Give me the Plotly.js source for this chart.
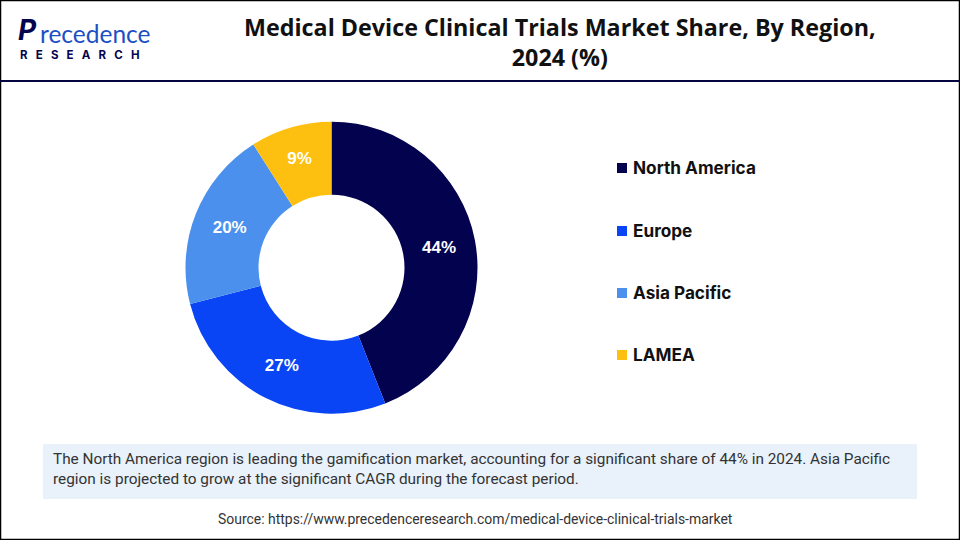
<!DOCTYPE html>
<html><head><meta charset="utf-8"><script src="https://cdn.plot.ly/plotly-3.0.1.min.js"></script>
<style>html,body{margin:0;padding:0;background:#fff}#c{width:960px;height:540px}</style></head>
<body><div id="c"></div><script>
const categories=["North America","Europe","Asia Pacific","LAMEA"];
const shares=[44,27,20,9];
const colors=["#02024f","#0a45f5","#4a90ec","#fdc010"];
const titleText="Medical Device Clinical Trials Market Share, By Region,<br>2024 (%)";
const noteLine1="The North America region is leading the gamification market, accounting for a significant share of 44% in 2024. Asia Pacific";
const noteLine2="region is projected to grow at the significant CAGR during the forecast period.";
const sourceText="Source: https://www.precedenceresearch.com/medical-device-clinical-trials-market";
const W=960,H=540;
const px=x=>x/W, py=y=>1-y/H;
const legendY=[168,231,293,355];
const shapes=[
 {type:"rect",xref:"paper",yref:"paper",x0:px(0.5),x1:px(959.5),y0:py(0.5),y1:py(539.5),line:{color:"#000",width:1.5},fillcolor:"rgba(0,0,0,0)"},
 {type:"line",xref:"paper",yref:"paper",x0:px(0),x1:px(960),y0:py(81),y1:py(81),line:{color:"#04043f",width:2}},
 {type:"rect",xref:"paper",yref:"paper",x0:px(43),x1:px(917),y0:py(444),y1:py(499),line:{width:0},fillcolor:"#e9f1fa",layer:"below"}
];
const ann=[
 {text:"<b>"+titleText+"</b>",x:px(560),y:py(42),xanchor:"center",yanchor:"middle",font:{family:"Open Sans",size:23.3,color:"#111"},showarrow:false,align:"center"},
 {text:noteLine1,x:px(50.5),y:py(459),xanchor:"left",yanchor:"middle",font:{family:"Roboto",size:15.35,color:"#333"},showarrow:false},
 {text:noteLine2,x:px(50.5),y:py(479),xanchor:"left",yanchor:"middle",font:{family:"Roboto",size:15.35,color:"#333"},showarrow:false},
 {text:sourceText,x:px(475),y:py(519),xanchor:"center",yanchor:"middle",font:{family:"Roboto",size:13.95,color:"#333"},showarrow:false},
 {text:"<b><i>P</i></b>",x:px(16),y:py(30),xanchor:"left",yanchor:"middle",font:{family:"Inter",size:28,color:"#05054f"},showarrow:false},
 {text:"recedence",x:px(38),y:py(33.5),xanchor:"left",yanchor:"middle",font:{family:"Lato",size:24.5,color:"#1c4fc4"},showarrow:false},
 {text:"<b>R   E   S   E   A   R   C   H</b>".replace(/ /g,"\u00a0"),x:px(18),y:py(55),xanchor:"left",yanchor:"middle",font:{family:"Inter",size:11.5,color:"#05054f"},showarrow:false}
];
categories.forEach((c,i)=>{
 shapes.push({type:"rect",xref:"paper",yref:"paper",x0:px(617),x1:px(627),y0:py(legendY[i]-5),y1:py(legendY[i]+5),line:{width:0},fillcolor:colors[i]});
 ann.push({text:"<b>"+c+"</b>",x:px(630.5),y:py(legendY[i]-0.7),xanchor:"left",yanchor:"middle",font:{family:"Inter",size:17.2,color:"#111"},showarrow:false});
});
Plotly.newPlot("c",[{type:"pie",labels:categories,values:shares,text:shares.map(v=>v+"%"),textinfo:"text",hole:0.5,sort:false,direction:"clockwise",rotation:0,
 marker:{colors:colors,line:{width:0}},textposition:"inside",insidetextorientation:"horizontal",
 textfont:{family:"Liberation Sans",size:17,color:"#fff",weight:700},
 domain:{x:[px(185.5),px(477.5)],y:[py(413.7),py(121.7)]}}],
 {width:W,height:H,margin:{l:0,r:0,t:0,b:0},showlegend:false,paper_bgcolor:"#fff",shapes:shapes,annotations:ann},{displayModeBar:false,staticPlot:true});
</script></body></html>
